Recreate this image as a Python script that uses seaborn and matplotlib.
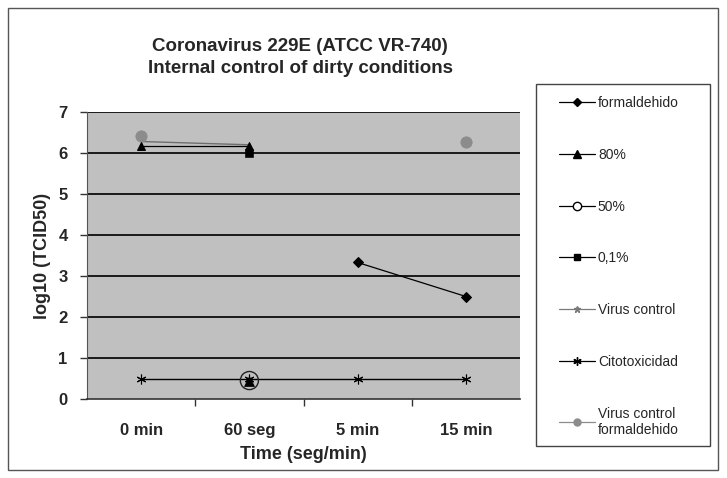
import numpy as np
import pandas as pd
import matplotlib
matplotlib.use("Agg")
import matplotlib.pyplot as plt
from matplotlib.lines import Line2D
from matplotlib.patches import Rectangle
import seaborn as sns

# ---- data ----
times = ["0 min", "60 seg", "5 min", "15 min"]
formaldehido = [np.nan, np.nan, 3.33, 2.5]
p80 = [6.18, 6.18, np.nan, np.nan]
p80_low = [np.nan, 0.45, np.nan, np.nan]
p50 = [np.nan, 0.45, np.nan, np.nan]
p01 = [np.nan, 6.0, np.nan, np.nan]
virus_control = [6.28, 6.2, np.nan, np.nan]
citotox = [0.5, 0.5, 0.5, 0.5]
vc_formal = [6.42, np.nan, np.nan, 6.26]

sns.set_style("white")
plt.rcParams["font.family"] = ["Liberation Sans", "DejaVu Sans"]

fig = plt.figure(figsize=(7.27, 4.78), dpi=100)
ax = fig.add_axes([87/727, 1-399/478, 433/727, 287/478])
ax.set_facecolor("#c0c0c0")

xs = np.arange(len(times))

def frame(vals):
    return pd.DataFrame({"x": xs, "y": vals}).dropna()

for y in range(1, 8):
    ax.axhline(y, color="#1a1a1a", lw=1.4, zorder=1)

star = (6, 2, 0)
sns.lineplot(data=frame(formaldehido), x="x", y="y", ax=ax, color="black", lw=0.9,
             marker="D", markersize=5, markeredgecolor="black", zorder=4)
sns.lineplot(data=frame(virus_control), x="x", y="y", ax=ax, color="#6e6e6e", lw=1.0,
             marker=None, zorder=3)
sns.lineplot(data=frame(p80), x="x", y="y", ax=ax, color="black", lw=0.9,
             marker="^", markersize=6, markeredgecolor="black", zorder=5)
sns.scatterplot(data=frame(p01), x="x", y="y", ax=ax, color="black", marker="s", s=30,
                edgecolor="black", zorder=4)
sns.lineplot(data=frame(citotox), x="x", y="y", ax=ax, color="black", lw=1.0,
             marker=star, markersize=7, markeredgewidth=0.8, markeredgecolor="black", zorder=4)
sns.scatterplot(data=frame(p50), x="x", y="y", ax=ax, facecolor="none", marker="o", s=170,
                edgecolor="#222222", linewidth=1.0, zorder=5)
sns.scatterplot(data=frame(p80_low), x="x", y="y", ax=ax, color="black", marker="^", s=50,
                edgecolor="black", zorder=6)
sns.scatterplot(data=frame(vc_formal), x="x", y="y", ax=ax, color="#8c8c8c", marker="o", s=65,
                edgecolor="#8c8c8c", zorder=4)

ax.set_xlim(-0.5, 3.5)
ax.set_ylim(0, 7)
ax.set_yticks(range(0, 8))
ax.set_yticklabels([str(v) for v in range(0, 8)], fontsize=12, fontweight="bold")
ax.set_xticks(xs)
ax.set_xticklabels(times, fontsize=12, fontweight="bold")
ax.set_xticks([0.5, 1.5, 2.5], minor=True)
ax.tick_params(axis="x", which="major", length=0, pad=17)
ax.tick_params(axis="x", which="minor", length=5, width=1, color="#333333", direction="out", bottom=True)
ax.tick_params(axis="y", length=5, width=1, color="#333333", direction="out", left=True, pad=9)

for s in ["top", "right"]:
    ax.spines[s].set_visible(False)
ax.spines["left"].set_color("#555555")
ax.spines["bottom"].set_color("#333333")
ax.spines["bottom"].set_linewidth(1.2)

ax.set_xlabel("Time (seg/min)", fontsize=13, fontweight="bold", labelpad=6)
ax.set_ylabel("log10 (TCID50)", fontsize=13, fontweight="bold", labelpad=5)

fig.text(300/727, 1-57.5/478, "Coronavirus 229E (ATCC VR-740)\nInternal control of dirty conditions",
         ha="center", va="center", fontsize=13.5, fontweight="bold", linespacing=1.35)

# legend
handles = [
    Line2D([], [], color="black", lw=0.9, marker="D", markersize=4),
    Line2D([], [], color="black", lw=0.9, marker="^", markersize=6),
    Line2D([], [], color="black", lw=0.9, marker="o", markersize=6, markerfacecolor="white"),
    Line2D([], [], color="black", lw=0.9, marker="s", markersize=5),
    Line2D([], [], color="#7a7a7a", lw=0.9, marker="*", markersize=5),
    Line2D([], [], color="black", lw=0.9, marker=star, markersize=6),
    Line2D([], [], color="#8c8c8c", lw=0.9, marker="o", markersize=5),
]
labels = ["formaldehido", "80%", "50%", "0,1%", "Virus control", "Citotoxicidad",
          "Virus control\nformaldehido"]
leg = fig.legend(handles, labels, loc="upper left", bbox_to_anchor=(559/727, 1-96/478),
                 frameon=False, fontsize=10, labelspacing=2.72, handlelength=2.6,
                 handletextpad=0.2, borderpad=0, borderaxespad=0)

fig.patches.append(Rectangle((536/727, 1-446/478), 174/727, 362/478, transform=fig.transFigure,
                             fill=False, edgecolor="#444444", lw=1.0))
fig.patches.append(Rectangle((8/727, 8/478), 710/727, 462/478, transform=fig.transFigure,
                             fill=False, edgecolor="#555555", lw=1.0))

fig.savefig("out.png", dpi=100)
